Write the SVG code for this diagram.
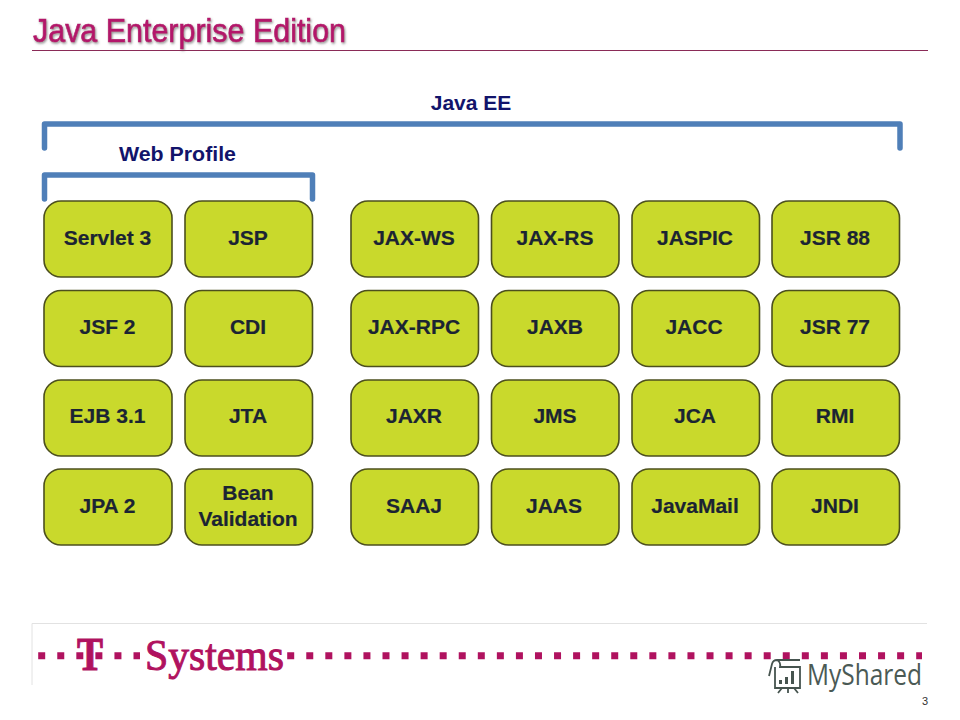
<svg xmlns="http://www.w3.org/2000/svg" width="960" height="720" viewBox="0 0 960 720">
<style>
text{font-family:"Liberation Sans",Arial,sans-serif}
.n rect{fill:#c9d92c;stroke:#4c4f1e;stroke-width:1.6}
.n text{font-size:21px;font-weight:700;fill:#1b2433;text-anchor:middle;stroke:#1b2433;stroke-width:.2}
.br{fill:none;stroke:#4f7fb8;stroke-width:5.5;stroke-linecap:round;stroke-linejoin:round}
.lb{font-size:21px;font-weight:700;fill:#12146b;text-anchor:middle}
.dot{fill:none;stroke:#b0125f;stroke-width:7;stroke-dasharray:7 12.06}
.brand{font-family:"Liberation Serif",serif;fill:#b0125f;stroke:#b0125f;stroke-width:1}
.ic{fill:none;stroke:#46544f;stroke-width:1.8}
</style>
<defs><filter id="sh" x="-5%" y="-20%" width="110%" height="150%"><feDropShadow dx="1" dy="1.5" stdDeviation="1" flood-color="#777" flood-opacity=".8"/></filter></defs>
<rect width="960" height="720" fill="#fff"/>
<g id="header">
<text x="33" y="41.500" font-size="34" textLength="313" lengthAdjust="spacingAndGlyphs" fill="#b3176b" stroke="#b3176b" stroke-width=".7" filter="url(#sh)">Java Enterprise Edition</text>
<line x1="32" y1="50.500" x2="928" y2="50.500" stroke="#8a2b57" stroke-width="1"/>
</g>
<g id="connectors">
<path class="br" d="M44.500 148V124H900V148"/>
<path class="br" d="M44.500 199V175H312.500V199"/>
</g>
<g id="label-java-ee"><text class="lb" x="471" y="110">Java EE</text></g>
<g id="label-web-profile"><text class="lb" x="177.500" y="161" textLength="117" lengthAdjust="spacingAndGlyphs">Web Profile</text></g>
<g id="servlet" class="n"><rect x="44" y="201" width="128" height="76" rx="17"/><text x="107.500" y="245">Servlet 3</text></g>
<g id="jsp" class="n"><rect x="185" y="201" width="127.500" height="76" rx="17"/><text x="248" y="245">JSP</text></g>
<g id="jax-ws" class="n"><rect x="351" y="201" width="127.500" height="76" rx="17"/><text x="414" y="245">JAX-WS</text></g>
<g id="jax-rs" class="n"><rect x="491.500" y="201" width="127.500" height="76" rx="17"/><text x="555" y="245">JAX-RS</text></g>
<g id="jaspic" class="n"><rect x="632" y="201" width="127.500" height="76" rx="17"/><text x="695" y="245">JASPIC</text></g>
<g id="jsr88" class="n"><rect x="772" y="201" width="127.500" height="76" rx="17"/><text x="835" y="245">JSR 88</text></g>
<g id="jsf" class="n"><rect x="44" y="290.500" width="128" height="76" rx="17"/><text x="107.500" y="334">JSF 2</text></g>
<g id="cdi" class="n"><rect x="185" y="290.500" width="127.500" height="76" rx="17"/><text x="248" y="334">CDI</text></g>
<g id="jax-rpc" class="n"><rect x="351" y="290.500" width="127.500" height="76" rx="17"/><text x="414" y="334">JAX-RPC</text></g>
<g id="jaxb" class="n"><rect x="491.500" y="290.500" width="127.500" height="76" rx="17"/><text x="555" y="334">JAXB</text></g>
<g id="jacc" class="n"><rect x="632" y="290.500" width="127.500" height="76" rx="17"/><text x="694" y="334">JACC</text></g>
<g id="jsr77" class="n"><rect x="772" y="290.500" width="127.500" height="76" rx="17"/><text x="835" y="334">JSR 77</text></g>
<g id="ejb" class="n"><rect x="44" y="380" width="128" height="76" rx="17"/><text x="107.500" y="423">EJB 3.1</text></g>
<g id="jta" class="n"><rect x="185" y="380" width="127.500" height="76" rx="17"/><text x="248" y="423">JTA</text></g>
<g id="jaxr" class="n"><rect x="351" y="380" width="127.500" height="76" rx="17"/><text x="414" y="423">JAXR</text></g>
<g id="jms" class="n"><rect x="491.500" y="380" width="127.500" height="76" rx="17"/><text x="555" y="423">JMS</text></g>
<g id="jca" class="n"><rect x="632" y="380" width="127.500" height="76" rx="17"/><text x="695" y="423">JCA</text></g>
<g id="rmi" class="n"><rect x="772" y="380" width="127.500" height="76" rx="17"/><text x="835" y="423">RMI</text></g>
<g id="jpa" class="n"><rect x="44" y="469" width="128" height="76" rx="17"/><text x="107.500" y="513">JPA 2</text></g>
<g id="bean" class="n"><rect x="185" y="469" width="127.500" height="76" rx="17"/><text x="248" y="500">Bean</text><text x="248" y="526">Validation</text></g>
<g id="saaj" class="n"><rect x="351" y="469" width="127.500" height="76" rx="17"/><text x="414" y="513">SAAJ</text></g>
<g id="jaas" class="n"><rect x="491.500" y="469" width="127.500" height="76" rx="17"/><text x="554" y="513">JAAS</text></g>
<g id="javamail" class="n"><rect x="632" y="469" width="127.500" height="76" rx="17"/><text x="695" y="513">JavaMail</text></g>
<g id="jndi" class="n"><rect x="772" y="469" width="127.500" height="76" rx="17"/><text x="835" y="513">JNDI</text></g>
<g id="footer">
<path d="M32 685V623.500H927" fill="none" stroke="#e2e2e2" stroke-width="1"/>
<line class="dot" x1="38.200" y1="655.700" x2="140" y2="655.700"/>
<line class="dot" x1="287.200" y1="655.700" x2="922" y2="655.700"/>
<text class="brand" x="77" y="670" font-size="46" font-weight="700" textLength="26" lengthAdjust="spacingAndGlyphs">T</text>
<text class="brand" x="145" y="670" font-size="44" textLength="139" lengthAdjust="spacingAndGlyphs">Systems</text>
</g>
<g id="watermark">
<path class="ic" d="M769 676L772 664Q773 660 777 660H800M777 660Q781 662 780 667H800V688H775V667"/>
<path d="M779 684V680H782V684ZM785 684V677H788V684ZM791 684V671H794V684Z" fill="#46544f"/>
<path class="ic" d="M782 688L778 693M788 688V693M794 688L798 693"/>
<text x="807" y="685" font-size="29" textLength="115" lengthAdjust="spacingAndGlyphs" fill="#4b5a55" style="font-family:'Open Sans',sans-serif">MyShared</text>
</g>
<text id="page" x="928" y="705" font-size="11" text-anchor="end" fill="#333">3</text>
</svg>
